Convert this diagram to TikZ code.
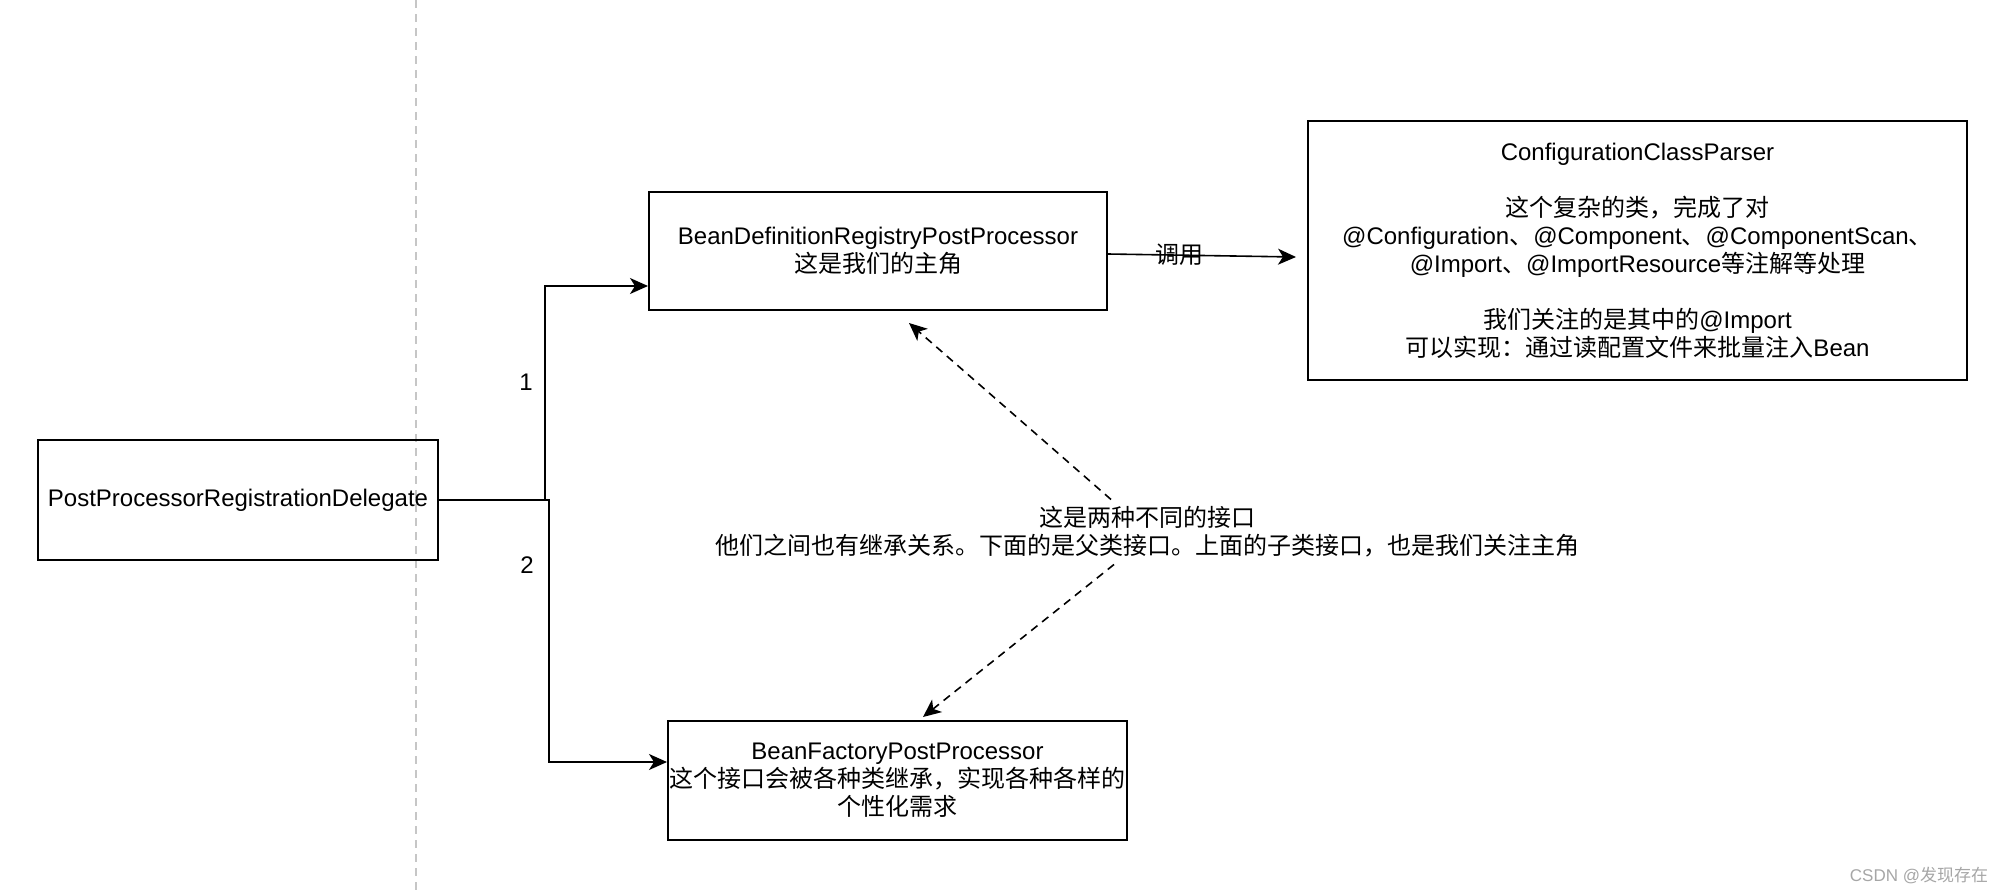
\documentclass[tikz,border=0pt]{standalone}
\usepackage{fontspec}
\setmainfont{Liberation Sans}
\newfontfamily\cjk{Noto Sans CJK SC}
\newcommand{\zh}[1]{{\cjk #1}}
\usetikzlibrary{arrows.meta}

\tikzset{
  box/.style={draw,line width=1pt,inner sep=0pt,align=center,font=\fontsize{12}{14}\selectfont},
  link/.style={line width=0.8pt,-{Stealth[length=9pt,width=8pt,inset=2.5pt]}},
  dashlink/.style={link,dash pattern=on 4pt off 3pt},
  tag/.style={font=\fontsize{12}{14}\selectfont,align=center},
}

\begin{document}
\begin{tikzpicture}[x=0.5pt,y=-0.5pt]
        \useasboundingbox (0,0) rectangle (2002,894);

        % separator
        \draw[gray!45,line width=1pt,dash pattern=on 4pt off 3pt] (416,0) -- (416,894);

        \node[box,minimum width=200pt,minimum height=60pt] (delegate) at (238,500) {PostProcessorRegistrationDelegate};
        \node[box,minimum width=229pt,minimum height=59pt] (registry) at (878,251)
            {BeanDefinitionRegistryPostProcessor\\ \zh{这是我们的主角}};
        \node[box,minimum width=229.5pt,minimum height=59.5pt] (factory) at (897.5,780.5)
            {BeanFactoryPostProcessor\\ \zh{这个接口会被各种类继承，实现各种各样的}\\ \zh{个性化需求}};
        \node[box,minimum width=329.5pt,minimum height=129.5pt] (parser) at (1637.5,250.5)
            {ConfigurationClassParser\\[14pt]
             \zh{这个复杂的类，完成了对}\\
             @Configuration\zh{、}@Component\zh{、}@ComponentScan\zh{、}\\
             @Import\zh{、}@ImportResource\zh{等注解等处理}\\[14pt]
             \zh{我们关注的是其中的}@Import\\
             \zh{可以实现：通过读配置文件来批量注入}Bean};

        % calls
        \draw[link] (delegate.east) -- ++(106,0) |- ([yshift=-17.5pt]registry.west);
        \draw[link] (delegate.east) -- ++(110,0) |- ([yshift=9.25pt]factory.west);
        \node[tag] (one) at (526,382) {1};
        \node[tag] (two) at (527,565) {2};

        \draw[link] ([yshift=-1.5pt]registry.east) -- ([xshift=-5.5pt,yshift=-3.25pt]parser.west)
            node[tag,pos=0.38] (call) {\zh{调用}};

        % the two interfaces
        \node[tag] (note) at (1147,532) {\zh{这是两种不同的接口}\\
            \zh{他们之间也有继承关系。下面的是父类接口。上面的子类接口，也是我们关注主角}};
        \draw[dashlink] ([xshift=-18pt]note.north) -- ([xshift=15.5pt,yshift=-6pt]registry.south);
        \draw[dashlink] ([xshift=-16.5pt]note.south) -- ([xshift=12.75pt,yshift=1.5pt]factory.north);

        \node[text=gray!70,font=\fontsize{8.5}{10}\selectfont] (mark) at (1919,875) {CSDN @\zh{发现存在}};
\end{tikzpicture}
\end{document}
